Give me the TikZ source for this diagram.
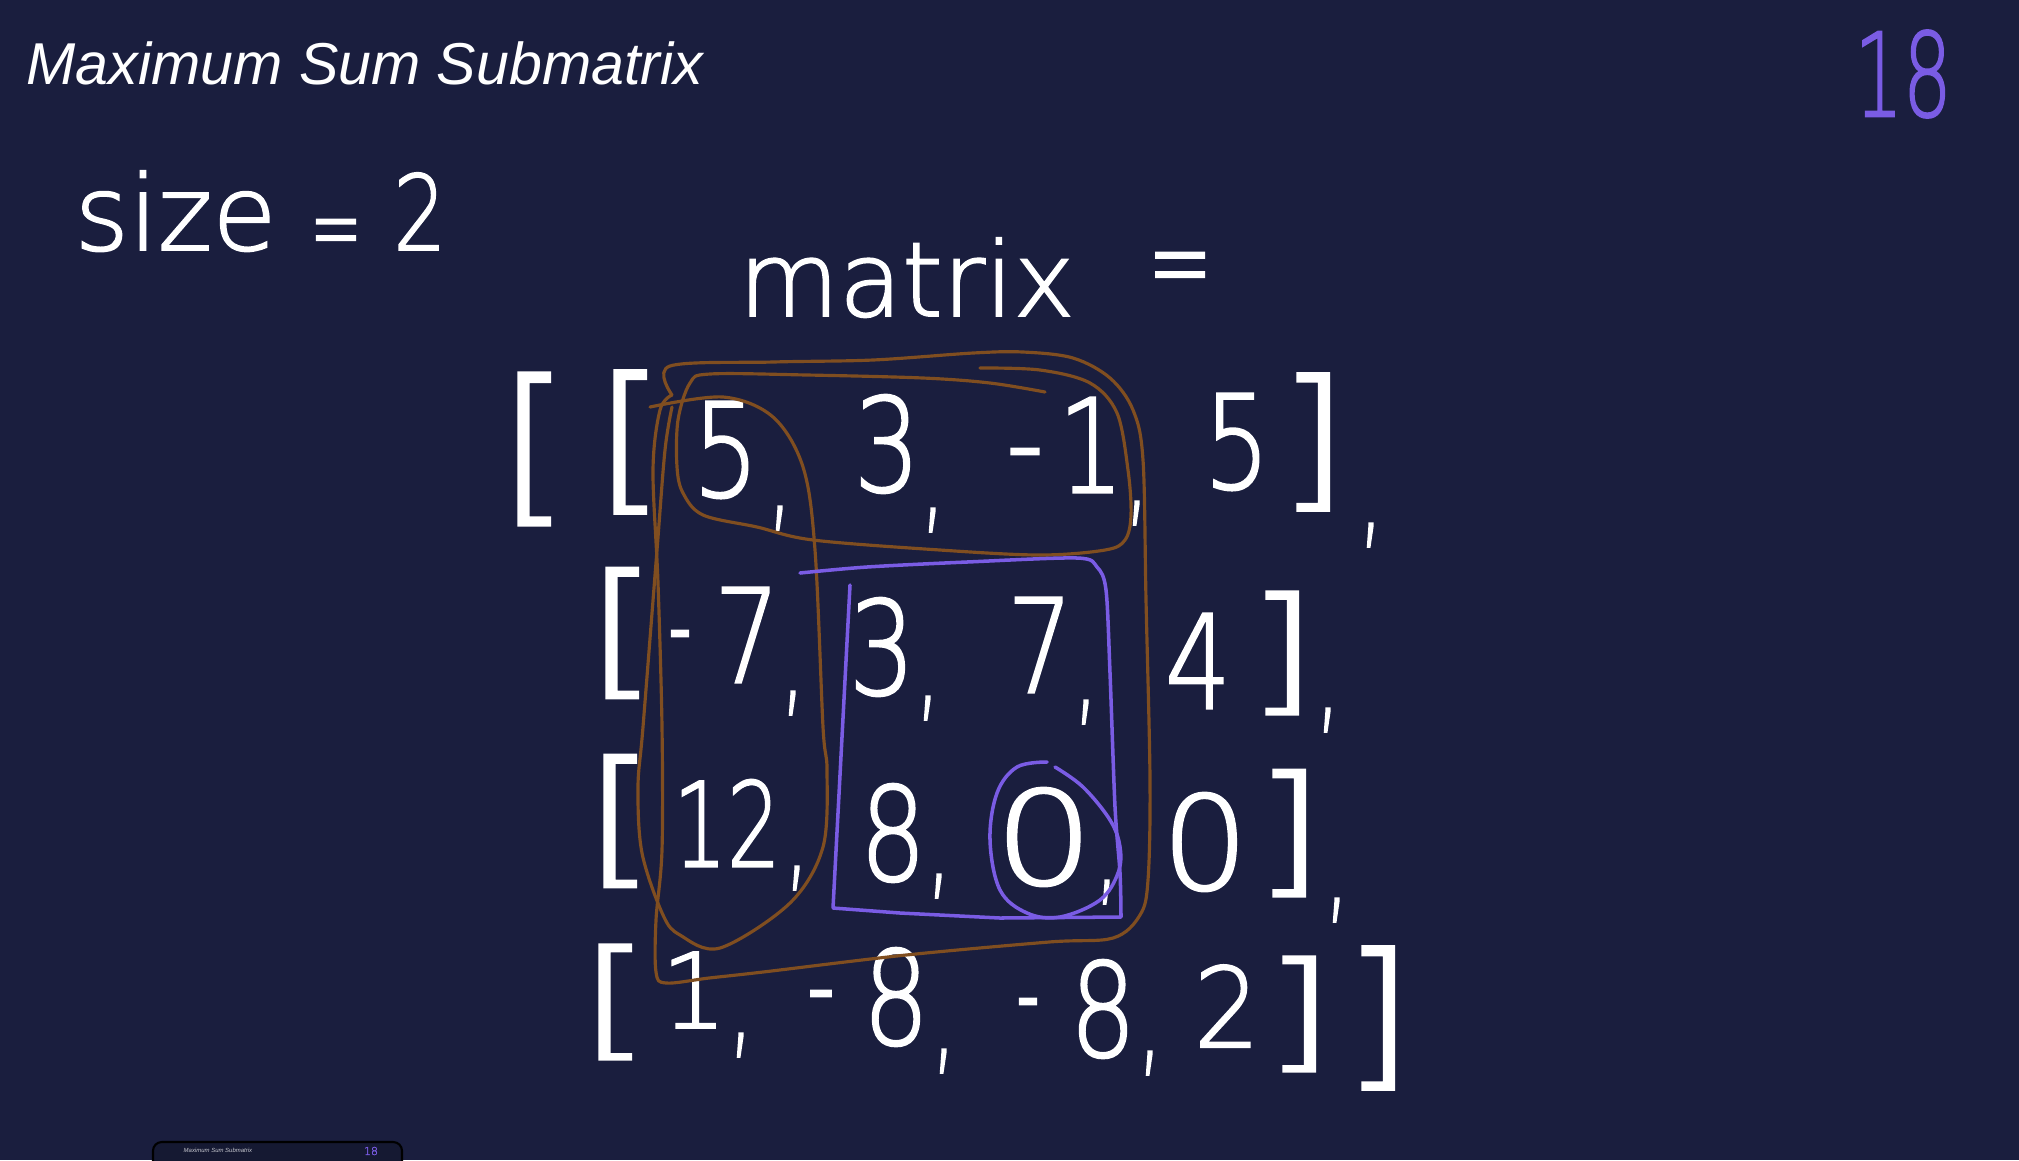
\documentclass[tikz,border=0pt]{standalone}
\usepackage{fontspec}
\usepackage{graphicx}
\IfFontExistsTF{DejaVu Sans ExtraLight}{\newfontfamily\handfamily[FakeBold=1.8]{DejaVu Sans ExtraLight}}{%
  \IfFontExistsTF{DejaVuSans-ExtraLight.ttf}{\newfontfamily\handfamily[FakeBold=1.8]{DejaVuSans-ExtraLight.ttf}}{\newfontfamily\handfamily{DejaVu Sans}}}
\newfontfamily\titlefamily{Liberation Sans}
\definecolor{bgnavy}{RGB}{26,30,62}
\definecolor{thumbbg}{RGB}{21,25,50}
\definecolor{penbrown}{RGB}{128,78,32}
\definecolor{penpurple}{RGB}{122,92,228}
\newcommand\handM{\handfamily\fontsize{37pt}{37pt}\selectfont}
\newcommand\dg[1]{\makebox[0.42em]{\scalebox{0.8}[1]{#1}}}
\newcommand\bk[2]{\makebox[0.32em]{\scalebox{1.4}[#1]{#2}}}
\newcommand\cm{\scalebox{0.6}[1]{,}}
\newcommand\dsh[1]{\makebox[0.12em]{\scalebox{#1}[1]{-}}}
\tikzset{
  hw/.style={text=white, inner sep=0pt, outer sep=0pt, font=\handM},
  brownstroke/.style={draw=penbrown, line width=0.9pt, line cap=round, line join=round},
  purplestroke/.style={draw=penpurple, line width=1pt, line cap=round, line join=round},
}
\begin{document}
\begin{tikzpicture}[x=0.01cm, y=-0.01cm]
\useasboundingbox (0,0) rectangle (2019,1160);
\fill[bgnavy] (0,0) rectangle (2019,1160);
\begin{scope}
\clip (0,0) rectangle (2019,1160);
% title and score
\node[anchor=base west, inner sep=0pt, text=white, font=\titlefamily\itshape\fontsize{16.8pt}{16.8pt}\selectfont] (title) at (26,84) {Maximum Sum Submatrix};
\node[hw, text=penpurple, font=\handfamily\fontsize{33pt}{33pt}\selectfont] (score) at (1903,74) {\scalebox{0.66}[1]{18}};
% size = 2
\node[anchor=base west, inner sep=0pt, text=white, font=\handfamily\fontsize{29.6pt}{29.6pt}\selectfont] (size) at (74,250)
  {size\hspace{0.32em}\raisebox{-0.12em}{\scalebox{0.6}[1]{=}}\hspace{0.30em}\scalebox{0.8}[1]{2}};
% matrix =
\node[anchor=base west, inner sep=0pt, text=white, font=\handfamily\fontsize{29.3pt}{29.3pt}\selectfont] (mlabel) at (738,316)
  {matrix\hspace{0.71em}\raisebox{0.12em}{\scalebox{0.75}[1.2]{=}}};
% outer brackets
\node[hw] (ob1) at (534,449) {\bk{1.31}{[}};
\node[hw] (ob2) at (1378,1018) {\bk{1.23}{]}};
% row 1
\node[hw] (ib1) at (630,442) {\bk{1.23}{[}};
\node[hw] (e11) at (726,450) {\dg{5}};
\node[hw] (c11) at (780,518) {\cm};
\node[hw] (e12) at (887,444) {\dg{3}};
\node[hw] (c12) at (933,520) {\cm};
\node[hw] (m13) at (1025,468) {\dsh{0.8}};
\node[hw] (e13) at (1091,445) {\dg{1}};
\node[hw] (c13) at (1137,513) {\cm};
\node[hw] (e14) at (1237,442) {\dg{5}};
\node[hw] (cb1) at (1313,442) {\bk{1.18}{]}};
\node[hw] (rc1) at (1371,535) {\cm};
% row 2
\node[hw] (ib2) at (622,633) {\bk{1.12}{[}};
\node[hw] (m21) at (680,650) {\dsh{0.5}};
\node[hw] (e21) at (747,635) {\dg{7}};
\node[hw] (c21) at (793,703) {\cm};
\node[hw] (e22) at (882,647) {\dg{3}};
\node[hw] (c22) at (928,708) {\cm};
\node[hw] (e23) at (1040,645) {\dg{7}};
\node[hw] (c23) at (1086,712) {\cm};
\node[hw] (e24) at (1198,661) {\dg{4}};
\node[hw] (cb2) at (1282,653) {\bk{1.06}{]}};
\node[hw] (rc2) at (1328,720) {\cm};
% row 3
\node[hw] (ib3) at (620,821) {\bk{1.14}{[}};
\node[hw] (e31) at (727,823) {\makebox[0.7em]{\scalebox{0.65}[0.9]{12}}};
\node[hw] (c31) at (797,878) {\cm};
\node[hw] (e32) at (893,833) {\dg{8}};
\node[hw] (c32) at (939,886) {\cm};
\node[hw] (e33) at (1044,837) {\makebox[0.6em]{\scalebox{1.2}[1]{0}}};
\node[hw] (c33) at (1107,892) {\cm};
\node[hw] (e34) at (1205,842) {\makebox[0.55em]{\scalebox{1.05}[1]{0}}};
\node[hw] (cb3) at (1289,833) {\bk{1.09}{]}};
\node[hw] (rc3) at (1337,910) {\cm};
% row 4
\node[hw] (ib4) at (615,1002) {\bk{0.99}{[}};
\node[hw] (e41) at (694,990) {\makebox[0.35em]{\scalebox{0.8}[0.8]{1}}};
\node[hw] (c41) at (741,1045) {\cm};
\node[hw] (m42) at (821,1010) {\dsh{0.6}};
\node[hw] (e42) at (896,997) {\dg{8}};
\node[hw] (c42) at (944,1061) {\cm};
\node[hw] (m43) at (1028,1018) {\dsh{0.5}};
\node[hw] (e43) at (1103,1009) {\dg{8}};
\node[hw] (c43) at (1150,1063) {\cm};
\node[hw] (e44) at (1227,1006) {\makebox[0.42em]{\scalebox{0.8}[0.85]{2}}};
\node[hw] (cb4) at (1299,1014) {\bk{0.99}{]}};
% brown loops
\draw[brownstroke] plot[smooth, tension=0.55] coordinates {(672,395) (670,366) (773,362) (873,360) (973,353) (1023,352) (1073,358) (1110,378) (1133,410) (1143,460) (1146,600) (1150,780) (1148,880) (1140,915) (1113,938) (1049,942) (906,955) (763,972) (709,978) (666,983) (656,972) (656,920) (662,850) (662,727) (658,583) (653,470) (660,410) (672,395)};
\draw[brownstroke] plot[smooth, tension=0.55] coordinates {(980,368) (1040,370) (1090,383) (1117,413) (1128,470) (1131,515) (1125,540) (1105,550) (1040,555) (940,550) (813,540) (757,527) (703,515) (683,493) (677,467) (678,420) (690,383) (710,374) (807,375) (923,378) (990,383) (1045,392)};
\draw[brownstroke] plot[smooth, tension=0.55] coordinates {(650,407) (723,397) (773,417) (803,467) (815,550) (823,727) (827,770) (823,847) (790,903) (720,948) (680,935) (663,915) (642,853) (638,787) (643,727) (657,550) (665,450) (672,407)};
% purple loops
\draw[purplestroke] plot[smooth, tension=0.5] coordinates {(800,573) (867,567) (967,562) (1077,558) (1097,567) (1106,590) (1110,673) (1115,807) (1120,873) (1121,917)} -- (1000,918) -- (900,913) -- (833,908) -- (850,585);
\draw[purplestroke] plot[smooth, tension=0.6] coordinates {(1047,762) (1017,767) (997,793) (990,840) (1000,890) (1027,913) (1060,917) (1100,900) (1118,873) (1120,847) (1110,820) (1083,787) (1055,767)};
% thumbnail strip
\draw[draw=black, line width=0.6pt, fill=thumbbg, rounded corners=2.5pt] (153,1142) rectangle (402,1210);
\node[anchor=base west, inner sep=0pt, text=white!75!bgnavy, font=\titlefamily\itshape\fontsize{1.7pt}{1.7pt}\selectfont] (thumbtitle) at (183,1152) {Maximum Sum Submatrix};
\node[inner sep=0pt, text=penpurple, font=\handfamily\fontsize{3.1pt}{3.1pt}\selectfont] (thumbscore) at (371,1151) {18};
\end{scope}
\end{tikzpicture}
\end{document}
